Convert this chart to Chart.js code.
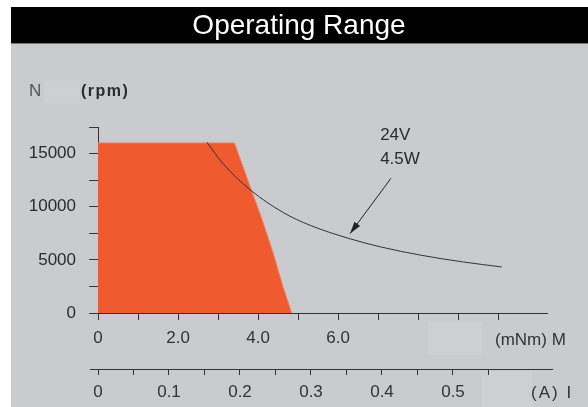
<!DOCTYPE html>
<html>
<head>
<meta charset="utf-8">
<title>Operating Range</title>
<script src="https://cdn.jsdelivr.net/npm/chart.js@4.4.0/dist/chart.umd.min.js"></script>
<style>
    html, body { margin: 0; padding: 0; background: #fff; }
    #wrap { position: relative; width: 588px; height: 407px; }
</style>
</head>
<body>
<div id="wrap"><canvas id="chart" width="588" height="407"></canvas></div>
<script>
// Operating range boundary, torque M (mNm) against speed N (rpm)
const rangeTorque = [0, 3.41, 3.80, 4.10, 4.38, 4.62, 4.84];
const rangeSpeed = [16000, 16000, 11900, 8800, 5600, 2500, 0];

// 24V / 4.5W curve
const curveTorque = [2.72, 3.13, 3.80, 4.63, 5.30, 6.30, 7.05, 8.05, 9.13, 10.09];
const curveSpeed = [16060, 14030, 11600, 9450, 8250, 6980, 6230, 5450, 4800, 4330];

// labelled ticks
const speedLabels = [0, 5000, 10000, 15000];
const torqueLabels = [0, 2, 4, 6];
const currentLabels = [0, 0.1, 0.2, 0.3, 0.4, 0.5];

const FONT = '"Liberation Sans", Arial, sans-serif';
const INK = '#2b2b2b';

function has(list, v) {
    return list.some(x => Math.abs(x - v) < 1e-6);
}

function toPoints(xs, ys) {
    return xs.map((x, i) => ({ x: x, y: ys[i] }));
}

const backdrop = {
    id: 'backdrop',
    beforeDraw(chart) {
        const ctx = chart.ctx;
        ctx.save();
        ctx.fillStyle = '#fff';
        ctx.fillRect(0, 0, chart.width, chart.height);
        // grey panel
        ctx.fillStyle = '#c9cbce';
        ctx.fillRect(11, 43, chart.width - 11, chart.height - 43);
        // faint lighter smudges
        ctx.fillStyle = '#cdcfd1';
        ctx.fillRect(44, 81, 36, 22);
        ctx.fillRect(428, 322, 54, 33);
        ctx.fillRect(482, 372, 50, 35);
        // title bar
        ctx.fillStyle = '#000';
        ctx.fillRect(11, 7, chart.width - 11, 36);
        ctx.fillStyle = '#777';
        ctx.fillRect(11, 43, chart.width - 11, 1);
        ctx.fillStyle = '#fff';
        ctx.font = '28px ' + FONT;
        ctx.textAlign = 'center';
        ctx.textBaseline = 'middle';
        ctx.fillText('Operating Range', 299, 26);
        ctx.restore();
    },
    afterDraw(chart) {
        const ctx = chart.ctx;
        const x = chart.scales.x;
        const y = chart.scales.y;
        const x2 = chart.scales.x2;
        ctx.save();

        // current axis line runs a little past its scale
        ctx.strokeStyle = '#333';
        ctx.lineWidth = 1;
        ctx.beginPath();
        ctx.moveTo(x2.left - 8, x2.top + 0.5);
        ctx.lineTo(x2.right + 6, x2.top + 0.5);
        ctx.stroke();

        // axis names
        ctx.textBaseline = 'middle';
        ctx.textAlign = 'left';
        ctx.fillStyle = '#555';
        ctx.font = '17px ' + FONT;
        ctx.fillText('N', 29, 91);
        ctx.fillStyle = INK;
        ctx.font = 'bold 16px ' + FONT;
        ctx.letterSpacing = '1.5px';
        ctx.fillText('(rpm)', 81, 92);
        ctx.letterSpacing = '0px';
        ctx.font = '17px ' + FONT;
        ctx.fillStyle = '#333';
        ctx.fillText('(mNm) M', 495, 340);
        ctx.letterSpacing = '2px';
        ctx.fillText('(A) I', 531, 393);
        ctx.letterSpacing = '0px';

        // curve annotation
        const tx = x.getPixelForValue(7.32), ty = y.getPixelForValue(12670);
        const hx = x.getPixelForValue(6.30), hy = y.getPixelForValue(7480);
        const ang = Math.atan2(hy - ty, hx - tx);
        ctx.strokeStyle = '#222';
        ctx.lineWidth = 1;
        ctx.beginPath();
        ctx.moveTo(tx, ty);
        ctx.lineTo(hx, hy);
        ctx.stroke();
        ctx.fillStyle = '#222';
        ctx.beginPath();
        ctx.moveTo(hx, hy);
        ctx.lineTo(hx - 12 * Math.cos(ang) + 3.5 * Math.sin(ang), hy - 12 * Math.sin(ang) - 3.5 * Math.cos(ang));
        ctx.lineTo(hx - 12 * Math.cos(ang) - 3.5 * Math.sin(ang), hy - 12 * Math.sin(ang) + 3.5 * Math.cos(ang));
        ctx.closePath();
        ctx.fill();

        ctx.fillStyle = INK;
        ctx.font = '17px ' + FONT;
        ctx.fillText('24V', x.getPixelForValue(7.05), y.getPixelForValue(16750));
        ctx.fillText('4.5W', x.getPixelForValue(7.05), y.getPixelForValue(14490));
        ctx.restore();
    }
};

const tickFont = { family: FONT, size: 17 };

new Chart(document.getElementById('chart'), {
    type: 'line',
    data: {
        datasets: [
            // first dataset is painted last, so the curve sits on the orange area
            {
                label: '24V 4.5W',
                data: toPoints(curveTorque, curveSpeed),
                borderColor: '#333',
                borderWidth: 1,
                fill: false,
                pointRadius: 0,
                cubicInterpolationMode: 'monotone'
            },
            {
                label: 'Operating range',
                data: toPoints(rangeTorque, rangeSpeed),
                borderColor: '#f2805f',
                borderWidth: 1,
                backgroundColor: '#ef5a2f',
                fill: 'origin',
                pointRadius: 0,
                tension: 0
            }
        ]
    },
    options: {
        responsive: false,
        animation: false,
        events: [],
        layout: { padding: { top: 127, left: 11, right: 41, bottom: 0 } },
        plugins: {
            legend: { display: false },
            title: { display: false },
            tooltip: { enabled: false }
        },
        scales: {
            x: {
                type: 'linear',
                position: 'bottom',
                weight: 0,
                min: 0,
                max: 11.22,
                afterBuildTicks: s => { s.ticks = s.ticks.filter(t => t.value <= 10.001); },
                afterFit: s => { s.height = 56; },
                grid: { drawOnChartArea: false, tickLength: 7, tickColor: '#333' },
                border: { color: '#333', width: 1 },
                ticks: {
                    stepSize: 1,
                    padding: 8,
                    autoSkip: false,
                    maxRotation: 0,
                    color: '#333',
                    font: tickFont,
                    callback: v => has(torqueLabels, v) ? (v === 0 ? '0' : v.toFixed(1)) : ''
                }
            },
            x2: {
                type: 'linear',
                position: 'bottom',
                weight: 1,
                min: 0,
                max: 0.6324,
                afterBuildTicks: s => { s.ticks = s.ticks.filter(t => t.value <= 0.6001); },
                afterFit: s => { s.height = 38; },
                grid: { drawOnChartArea: false, tickLength: 6, tickColor: '#333' },
                border: { color: '#333', width: 1 },
                ticks: {
                    stepSize: 0.05,
                    padding: 7,
                    autoSkip: false,
                    maxRotation: 0,
                    color: '#333',
                    font: tickFont,
                    callback: v => has(currentLabels, v) ? (v === 0 ? '0' : v.toFixed(1)) : ''
                }
            },
            y: {
                type: 'linear',
                min: 0,
                max: 17500,
                afterFit: s => { s.width = 87; },
                grid: { drawOnChartArea: false, tickLength: 9, tickColor: '#333' },
                border: { color: '#333', width: 1 },
                ticks: {
                    stepSize: 2500,
                    padding: 13,
                    autoSkip: false,
                    color: INK,
                    font: tickFont,
                    callback: v => has(speedLabels, v) ? String(v) : ''
                }
            }
        }
    },
    plugins: [backdrop]
});
</script>
</body>
</html>
